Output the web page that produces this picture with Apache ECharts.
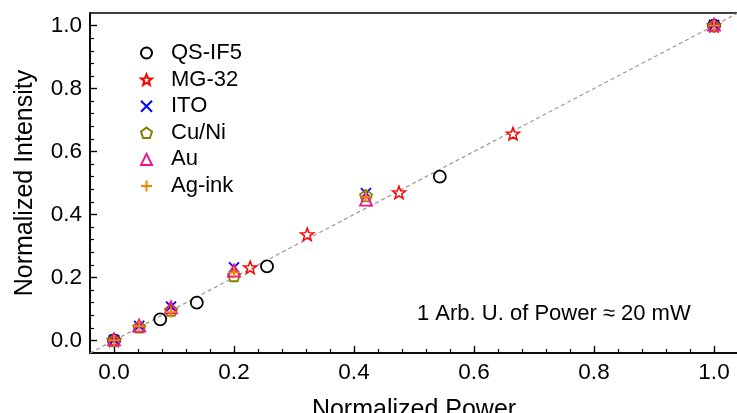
<!DOCTYPE html>
<html>
<head>
<meta charset="utf-8">
<script src="https://cdn.jsdelivr.net/npm/echarts@6/dist/echarts.min.js"></script>
<style>html,body{margin:0;padding:0;background:#fff}#c{width:737px;height:413px}</style>
</head>
<body>
<div id="c"></div>
<script>
// ---- data ----
const seriesNames = ['QS-IF5', 'MG-32', 'ITO', 'Cu/Ni', 'Au', 'Ag-ink'];
const qsIF5 = [[0, 0], [0.077, 0.067], [0.138, 0.12], [0.255, 0.235], [0.543, 0.52], [1, 1]];
const mg32  = [[0, 0], [0.227, 0.232], [0.322, 0.337], [0.475, 0.47], [0.665, 0.657], [1, 1]];
const ito   = [[0, 0.002], [0.042, 0.046], [0.095, 0.107], [0.2, 0.232], [0.42, 0.468], [1, 1.002]];
const cuNi  = [[0, 0], [0.042, 0.043], [0.095, 0.096], [0.2, 0.206], [0.42, 0.46], [1, 1]];
const au    = [[0, 0.003], [0.042, 0.047], [0.095, 0.105], [0.2, 0.222], [0.42, 0.447], [1, 1.003]];
const agInk = [[0, 0], [0.042, 0.045], [0.095, 0.09], [0.2, 0.216], [0.42, 0.457], [1, 1]];
const guideLine = [[-0.04, -0.04], [1.04, 1.04]];
const majorTicks = [0, 0.2, 0.4, 0.6, 0.8, 1.0];
const minorTicks = [0.04, 0.08, 0.12, 0.16, 0.24, 0.28, 0.32, 0.36, 0.44, 0.48, 0.52, 0.56, 0.64, 0.68, 0.72, 0.76, 0.84, 0.88, 0.92, 0.96];
const annotation = '1 Arb. U. of Power \u2248 20 mW';

// ---- chart ----
const FONT = 'Liberation Sans, Arial, sans-serif';
const starPath = 'path://M0,-1L0.247,-0.34L0.951,-0.309L0.399,0.13L0.588,0.809L0,0.42L-0.588,0.809L-0.399,0.13L-0.951,-0.309L-0.247,-0.34Z';
const pentPath = 'path://M0,-1L0.951,-0.309L0.588,0.809L-0.588,0.809L-0.951,-0.309Z';
const crossPath = 'path://M0,0L10,10M10,0L0,10';
const plusPath = 'path://M5,0L5,10M0,5L10,5';

const styles = [
  {symbol: 'circle', color: '#000000', size: 12, bw: 1.8},
  {symbol: starPath, color: '#ff0000', size: 13, bw: 1.5},
  {symbol: crossPath, color: '#0000ff', size: 10, bw: 1.8},
  {symbol: pentPath, color: '#808000', size: 12, bw: 1.8},
  {symbol: 'triangle', color: '#f0148c', size: 12, bw: 1.8},
  {symbol: plusPath, color: '#ff8000', size: 11, bw: 1.8}
];
const datasets = [qsIF5, mg32, ito, cuNi, au, agInk];

function valueAxis(isX) {
  const base = {
    type: 'value', min: -0.04, max: 1.04,
    splitLine: {show: false}
  };
  return [
    Object.assign({}, base, {
      position: isX ? 'bottom' : 'left',
      axisLine: {show: true, onZero: false, lineStyle: {color: '#000', width: 1.6}},
      axisTick: {show: true, inside: true, length: 7, customValues: majorTicks, lineStyle: {color: '#000', width: 1.4}},
      axisLabel: {show: true, customValues: majorTicks, formatter: v => v.toFixed(1), fontSize: 22.5, color: '#000', fontFamily: FONT, margin: 8},
      name: isX ? 'Normalized Power' : 'Normalized Intensity',
      nameLocation: 'middle',
      nameGap: isX ? 45 : 52,
      nameTextStyle: {fontSize: 25, color: '#000', fontFamily: FONT}
    }),
    Object.assign({}, base, {
      position: isX ? 'bottom' : 'left',
      axisLine: {show: false, onZero: false},
      axisTick: {show: true, inside: true, length: 4, customValues: minorTicks, lineStyle: {color: '#000', width: 1.2}},
      axisLabel: {show: false}
    })
  ];
}

const series = [{
  type: 'line', data: guideLine, symbol: 'none', silent: true, z: 1,
  lineStyle: {color: '#a0968f', width: 1.2, type: [4, 3]}
}];
seriesNames.forEach((n, i) => {
  const s = styles[i];
  series.push({
    name: n, type: 'scatter', data: datasets[i],
    symbol: s.symbol, symbolSize: s.size, symbolKeepAspect: true, z: 2 + i,
    itemStyle: {color: 'rgba(0,0,0,0)', borderColor: s.color, borderWidth: s.bw, opacity: 1}
  });
});

const chart = echarts.init(document.getElementById('c'), null, {renderer: 'canvas'});
chart.setOption({
  animation: false,
  backgroundColor: '#fff',
  grid: {left: 90, right: -1, top: 13, bottom: 60, show: true, borderColor: '#000', borderWidth: 1.6, containLabel: false, outerBoundsMode: 'none'},
  xAxis: valueAxis(true),
  yAxis: valueAxis(false),
  legend: {
    data: seriesNames, orient: 'vertical', left: 140, top: 42, padding: 0,
    itemWidth: 11, itemHeight: 11, itemGap: 4.6,
    textStyle: {fontSize: 22, color: '#000', fontFamily: FONT, lineHeight: 22, padding: [0, 0, 0, 14]}
  },
  graphic: [{
    type: 'text', left: 417, top: 303,
    style: {text: annotation, font: '22px ' + FONT, fill: '#000'}
  }],
  series: series
});
</script>
</body>
</html>
